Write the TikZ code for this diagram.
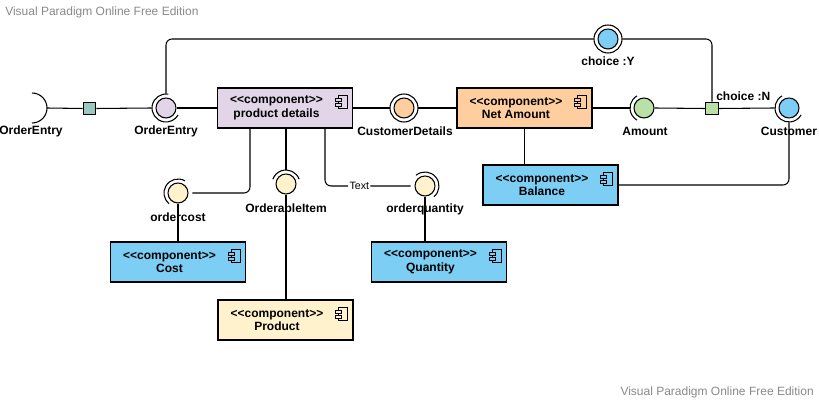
\documentclass[tikz,border=0pt]{standalone}
\usepackage{fontspec}
\setmainfont{Liberation Sans}
\usetikzlibrary{backgrounds,calc}

\definecolor{purp}{HTML}{E1D5E7}
\definecolor{peach}{HTML}{FFCE9F}
\definecolor{mint}{HTML}{B9E0A5}
\definecolor{sky}{HTML}{7CCEF4}
\definecolor{cream}{HTML}{FFF2CC}
\definecolor{teal}{HTML}{9AC7BF}
\definecolor{wmark}{HTML}{8A8A8A}

\tikzset{
  comp/.style={draw, line width=0.8pt, minimum width=101.25pt, minimum height=30pt, inner sep=0pt},
  ctext/.style={font=\fontsize{9}{10.1}\selectfont\bfseries, align=center, inner sep=0pt},
  ball/.style={circle, draw, line width=0.8pt, minimum size=15pt, inner sep=0pt},
  ring/.style={circle, minimum size=21pt, inner sep=0pt},
  port/.style={draw, line width=0.8pt, minimum size=9.4pt, inner sep=0pt},
  lbl/.style={font=\fontsize{9}{10}\selectfont\bfseries, inner sep=0pt},
  wm/.style={font=\fontsize{9}{10}\selectfont, text=wmark, inner sep=0pt},
  conn/.style={line width=0.8pt, rounded corners=4.5pt},
  arcline/.style={line width=0.8pt},
}

% stereotype line of a component box
\newcommand{\stereo}{<{}<component>{}>}

% component icon in the upper right corner of a component box
\newcommand{\cicon}[2]{%
  \begin{scope}[shift={(#1.north east)}]
    \draw[line width=0.6pt, fill=#2] (-11.25pt,-6pt) rectangle (-4.5pt,-15.75pt);
    \draw[line width=0.6pt, fill=#2] (-13.5pt,-8.25pt) rectangle (-9pt,-10.5pt);
    \draw[line width=0.6pt, fill=#2] (-13.5pt,-12pt) rectangle (-9pt,-14.25pt);
  \end{scope}}

% socket arc around an interface ball
\newcommand{\sockarc}[4]{%
  \draw[arcline] ([shift={(#2:#4)}]#1.center) arc[start angle=#2, end angle=#3, radius=#4];}

\begin{document}
\begin{tikzpicture}[x=0.75pt, y=-0.75pt]
\useasboundingbox (0,0) rectangle (819,402);

% ---------- components ----------
\node[comp, fill=purp]  (pd) at (285,108) {};
\node[ctext] at ([xshift=-6.4pt]pd.center) {\stereo\\product details};
\cicon{pd}{purp}

\node[comp, fill=peach] (na) at (524.5,108) {};
\node[ctext] at ([xshift=-6.4pt]na.center) {\stereo\\Net Amount};
\cicon{na}{peach}

\node[comp, fill=sky]   (ba) at (550.5,185) {};
\node[ctext] at ([xshift=-6.4pt]ba.center) {\stereo\\Balance};
\cicon{ba}{sky}

\node[comp, fill=sky]   (co) at (178,262) {};
\node[ctext] at ([xshift=-6.4pt]co.center) {\stereo\\Cost};
\cicon{co}{sky}

\node[comp, fill=sky]   (qu) at (439,262) {};
\node[ctext] at ([xshift=-6.4pt]qu.center) {\stereo\\Quantity};
\cicon{qu}{sky}

\node[comp, fill=cream] (pr) at (285.5,320) {};
\node[ctext] at ([xshift=-6.4pt]pr.center) {\stereo\\Product};
\cicon{pr}{cream}

% ---------- ports ----------
\node[port, fill=teal] (sq1) at (89.5,108.5) {};
\node[port, fill=mint] (sq2) at (712,108.5) {};
\node[lbl, anchor=west] (sq2l) at (716,96) {choice :N};

% ---------- interfaces ----------
% OrderEntry (required only)
\coordinate (oe1) at (32,108);
\coordinate (oe1r) at (47,108);
\draw[arcline] ([shift={(90:11.25pt)}]oe1) arc[start angle=90, end angle=-90, radius=11.25pt];
\node[lbl] (oe1l) at (31,131) {OrderEntry};

% OrderEntry
\node[ball, fill=purp] (oe2) at (166,108) {};
\node[ring] (oe2o) at (166,108) {};
\sockarc{oe2}{80}{330}{10.5pt}
\node[lbl] (oe2l) at (166,131) {OrderEntry};

% CustomerDetails
\node[ball, fill=peach] (cd) at (404,108) {};
\node[ring] (cdo) at (404,108) {};
\draw[arcline] (cd.center) circle[radius=10.5pt];
\node[lbl] (cdl) at (405,131) {CustomerDetails};

% Amount
\node[ball, fill=mint] (am) at (644,108) {};
\node[ring] (amo) at (644,108) {};
\sockarc{am}{120}{240}{10.5pt}
\node[lbl] (aml) at (645,131) {Amount};

% Customer
\node[ball, fill=sky] (cu) at (789,108) {};
\node[ring] (cuo) at (789,108) {};
\sockarc{cu}{120}{330}{10.5pt}
\node[lbl] (cul) at (789,131) {Customer};

% choice :Y
\node[ball, fill=sky] (cy) at (608,39) {};
\node[ring] (cyo) at (608,39) {};
\draw[arcline] (cy.center) circle[radius=10.5pt];
\node[lbl] (cyl) at (608,61) {choice :Y};

% ordercost
\node[ball, fill=cream] (oc) at (178,193) {};
\node[ring] (oco) at (178,193) {};
\sockarc{oc}{60}{230}{10.5pt}
\node[lbl] (ocl) at (178,217) {ordercost};

% OrderableItem
\node[ball, fill=cream] (oi) at (286,184) {};
\node[ring] (oio) at (286,184) {};
\sockarc{oi}{20}{160}{10.5pt}
\node[lbl] (oil) at (286,208) {OrderableItem};

% orderquantity
\node[ball, fill=cream] (oq) at (425,186) {};
\node[ring] (oqo) at (425,186) {};
\sockarc{oq}{-50}{130}{10.5pt}
\node[lbl] (oql) at (425,209) {orderquantity};

% ---------- watermarks ----------
\node[wm, anchor=west] (wm1) at (5,12) {Visual Paradigm Online Free Edition};
\node[wm, anchor=east] (wm2) at (814,392) {Visual Paradigm Online Free Edition};

% ---------- connectors ----------
\begin{scope}[on background layer]
  \fill[white] (0,0) rectangle (819,402);
  \draw[conn] (oe1r) -- (sq1.west);
  \draw[conn] (sq1.east) -- (oe2o.west);
  \draw[conn] (oe2.east) -- (pd.west);
  \draw[conn] (oe2o.north) |- (cyo.west);
  \draw[conn] (cyo.east) -| (sq2.north);
  \draw[conn] (pd.east) -- (cdo.west);
  \draw[conn] (cdo.east) -- (na.west);
  \draw[conn] (na.east) -- (amo.west);
  \draw[conn] (am.east) -- (sq2.west);
  \draw[conn] (sq2.east) -- (cuo.west);
  \draw[conn] (na.south) -- (na.south |- ba.north);
  \draw[conn] (ba.east) -| (cuo.south);
  \draw[conn] ([xshift=-26.25pt]pd.south) |- (oco.east);
  \draw[conn] (pd.south -| oio.north) -- (oio.north);
  \draw[conn] (oi.south) -- (pr.north -| oi.south);
  \draw[conn] ([xshift=30pt]pd.south) |- node[pos=0.70, fill=white, inner sep=1pt, font=\fontsize{8}{9}\selectfont] {Text} (oqo.west);
  \draw[conn] (oc.south) -- (co.north -| oc.south);
  \draw[conn] (oq.south) -- (qu.north -| oq.south);
\end{scope}
\end{tikzpicture}
\end{document}
